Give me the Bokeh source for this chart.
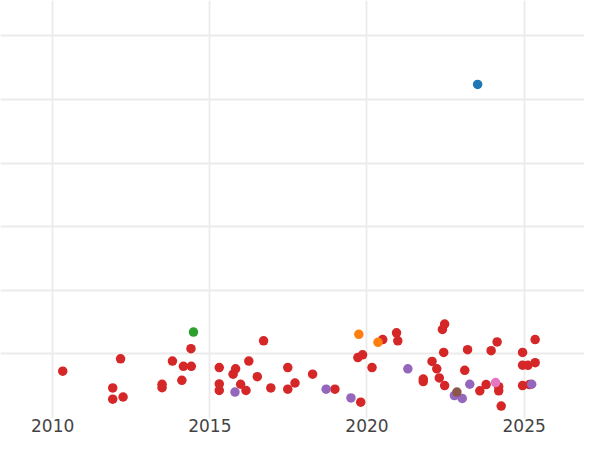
from bokeh.plotting import figure
from bokeh.models import Range1d, FixedTicker
from bokeh.embed import file_html
from bokeh.resources import INLINE

# ---- data (year, value) per category ----
red_x = [2010.32, 2012.16, 2011.91, 2011.91, 2012.24, 2013.48, 2013.48, 2013.81, 2014.16, 2014.41,
         2014.11, 2014.40, 2015.30, 2015.82, 2015.74, 2016.24, 2016.71, 2015.30, 2015.30, 2015.98,
         2016.15, 2016.51, 2016.94, 2017.48, 2017.48, 2017.71, 2018.27, 2018.98, 2019.80, 2019.71,
         2019.86, 2020.16, 2020.50, 2020.94, 2020.98, 2021.79, 2021.79, 2022.07, 2022.22, 2022.30,
         2022.47, 2022.44, 2022.40, 2022.47, 2023.20, 2023.11, 2023.59, 2023.79, 2023.95, 2024.14,
         2024.19, 2024.19, 2024.27, 2024.95, 2025.35, 2024.95, 2025.12, 2025.35, 2024.95, 2025.17]
red_y = [7.28, 9.23, 4.66, 2.88, 3.23, 5.23, 4.69, 8.88, 8.05, 8.05,
         5.85, 10.82, 7.85, 7.65, 6.82, 8.88, 12.05, 5.28, 4.26, 5.23,
         4.26, 6.42, 4.66, 7.85, 4.46, 5.43, 6.82, 4.46, 2.42, 9.43,
         9.85, 7.85, 12.26, 13.31, 12.05, 6.05, 5.65, 8.82, 7.65, 6.23,
         5.03, 10.23, 13.85, 14.69, 10.66, 7.43, 4.20, 5.18, 10.51, 11.89,
         4.85, 4.20, 1.80, 10.23, 12.26, 8.23, 8.20, 8.62, 5.03, 5.18]

green_x = [2014.48]
green_y = [13.43]

blue_x = [2023.52]
blue_y = [52.35]

orange_x = [2019.74, 2020.35]
orange_y = [13.08, 11.82]

purple_x = [2015.80, 2018.70, 2019.49, 2021.30, 2022.78, 2023.03, 2023.27, 2025.24]
purple_y = [4.00, 4.46, 3.08, 7.65, 3.46, 3.00, 5.23, 5.23]

brown_x = [2022.86]
brown_y = [4.00]

pink_x = [2024.09]
pink_y = [5.49]

x_ticks = [2010, 2015, 2020, 2025]
y_ticks = [10, 20, 30, 40, 50, 60]

p = figure(width=584, height=434, output_backend="svg", toolbar_location=None,
           x_range=Range1d(2008.34, 2026.92), y_range=Range1d(-0.15, 65.54),
           min_border_left=0, min_border_right=0, min_border_top=0, min_border_bottom=0)

p.outline_line_color = None
p.background_fill_color = "white"
p.border_fill_color = "white"

p.yaxis.visible = False
p.xaxis.ticker = FixedTicker(ticks=x_ticks)
p.xaxis.axis_line_color = None
p.xaxis.major_tick_line_color = None
p.xaxis.minor_tick_line_color = None
p.xaxis.major_tick_out = 0
p.xaxis.major_tick_in = 0
p.xaxis.major_label_text_font = "DejaVu Sans"
p.xaxis.major_label_text_font_size = "17px"
p.xaxis.major_label_text_color = "#444444"
p.xaxis.major_label_standoff = 0

p.xgrid.ticker = FixedTicker(ticks=x_ticks)
p.ygrid.ticker = FixedTicker(ticks=y_ticks)
for g in (p.xgrid, p.ygrid):
    g.grid_line_color = "#ebebeb"
    g.grid_line_width = 1.8

size = 9.5
p.scatter(red_x, red_y, size=size, color="#d62728", line_color=None)
p.scatter(green_x, green_y, size=size, color="#2ca02c", line_color=None)
p.scatter(blue_x, blue_y, size=size, color="#1f77b4", line_color=None)
p.scatter(orange_x, orange_y, size=size, color="#ff7f0e", line_color=None)
p.scatter(purple_x, purple_y, size=size, color="#9467bd", line_color=None)
p.scatter(brown_x, brown_y, size=size, color="#8c564b", line_color=None)
p.scatter(pink_x, pink_y, size=size, color="#e377c2", line_color=None)

open("out.html", "w").write(file_html(p, INLINE))
